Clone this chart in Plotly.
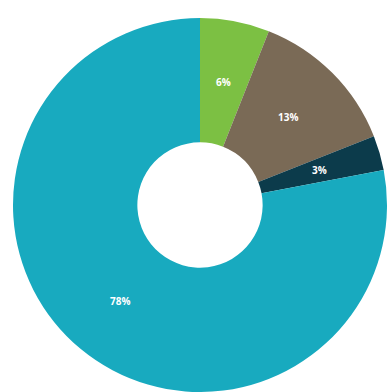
import math
import plotly.graph_objects as go

# Donut chart: share of each category
categories = ["Category A", "Category B", "Category C", "Category D"]
shares = [6, 13, 3, 78]
colors = ["#7cc043", "#7a6a56", "#0c3b4b", "#18aabf"]

W, H = 388, 392
dom_x = [13 / W, 387 / W]
dom_y = [0, 374 / H]
hole = 0.335

fig = go.Figure(
    go.Pie(
        labels=categories,
        values=shares,
        marker=dict(colors=colors, line=dict(width=0)),
        hole=hole,
        sort=False,
        direction="clockwise",
        rotation=0,
        textinfo="none",
        domain=dict(x=dom_x, y=dom_y),
        showlegend=False,
        hoverinfo="label+percent",
    )
)

# Percentage labels centred in the ring at each slice's mid-angle
cx = (dom_x[0] + dom_x[1]) / 2 * W
cy = (dom_y[0] + dom_y[1]) / 2 * H
r_out = min((dom_x[1] - dom_x[0]) * W, (dom_y[1] - dom_y[0]) * H) / 2
r_mid = r_out * (1 + hole) / 2
total = sum(shares)
start = 0.0
for v in shares:
    mid = (start + v / 2) / total * 2 * math.pi
    start += v
    x = cx + r_mid * math.sin(mid)
    y = cy + r_mid * math.cos(mid)
    fig.add_annotation(
        x=x / W, y=y / H, xref="paper", yref="paper",
        xanchor="center", yanchor="middle",
        text=f"{round(v / total * 100)}%", showarrow=False,
        font=dict(family="Open Sans", size=10, color="white", weight="bold"),
    )

fig.update_layout(
    width=W,
    height=H,
    margin=dict(l=0, r=0, t=0, b=0),
    paper_bgcolor="white",
    plot_bgcolor="white",
)

fig.write_html("out.html")
